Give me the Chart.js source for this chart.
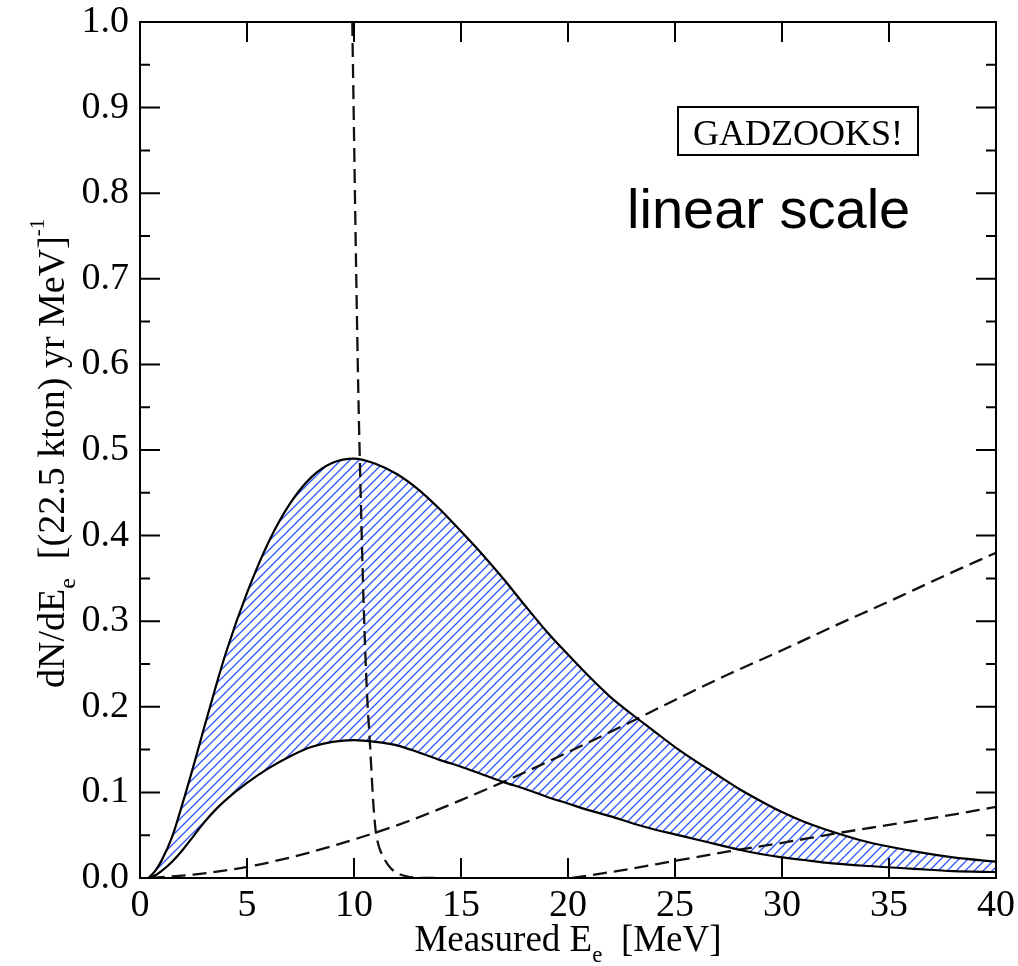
<!DOCTYPE html>
<html>
<head>
<meta charset="utf-8">
<script src="https://cdn.jsdelivr.net/npm/chart.js@4.4.0/dist/chart.umd.min.js"></script>
<style>
  html, body { margin: 0; padding: 0; background: #fff; }
  #wrap { position: relative; width: 1018px; height: 966px; }
</style>
</head>
<body>
<div id="wrap"><canvas id="c" width="1018" height="966"></canvas></div>
<script>
// Positron energy grid for the signal band (MeV)
const energy = [0.4, 0.7, 1, 1.5, 2, 2.5, 3, 3.5, 4, 5, 6, 7, 8, 9, 10, 11, 12, 13, 14, 15, 16,
                17, 18, 19, 20, 21, 22, 23, 24, 25, 26, 27, 28, 29, 30, 31, 32, 34, 36, 38, 40];
// Upper edge of the relic-neutrino signal band
const bandUpper = [0, 0.008, 0.020, 0.048, 0.088, 0.131, 0.176, 0.220, 0.262, 0.333, 0.392, 0.437,
                   0.468, 0.485, 0.490, 0.484, 0.472, 0.454, 0.431, 0.405, 0.378, 0.349, 0.318,
                   0.288, 0.261, 0.235, 0.211, 0.191, 0.172, 0.153, 0.136, 0.120, 0.104, 0.090,
                   0.077, 0.066, 0.057, 0.042, 0.032, 0.024, 0.019];
// Lower edge of the signal band
const bandLower = [0, 0.003, 0.008, 0.019, 0.033, 0.049, 0.065, 0.079, 0.091, 0.111, 0.128, 0.142,
                   0.153, 0.159, 0.161, 0.159, 0.155, 0.147, 0.138, 0.130, 0.121, 0.112, 0.104,
                   0.095, 0.087, 0.079, 0.072, 0.064, 0.057, 0.051, 0.045, 0.039, 0.033, 0.028,
                   0.024, 0.021, 0.018, 0.014, 0.011, 0.008, 0.007];

// Spallation / reactor background falling off near 10-12 MeV
const spallE = [9.92, 10.0, 10.1, 10.2, 10.3, 10.45, 10.6, 10.75, 10.9, 11.0, 11.1, 11.2, 11.4,
                11.7, 12.0, 12.5, 13.0, 14.0];
const spallRate = [1.0, 0.87, 0.71, 0.57, 0.46, 0.32, 0.22, 0.155, 0.088, 0.058, 0.043, 0.034,
                   0.023, 0.012, 0.006, 0.0015, 0.0003, 0];

// Invisible-muon decay background
const muonE = [0.5, 2.5, 5, 7.5, 10, 12.5, 15, 17.5, 20, 22.5, 25, 27.5, 30, 32.5, 35, 37.5, 40];
const muonRate = [0, 0.004, 0.013, 0.027, 0.045, 0.066, 0.091, 0.118, 0.147, 0.177, 0.208, 0.238,
                  0.266, 0.295, 0.323, 0.352, 0.380];

// Atmospheric electron-neutrino background
const atmE = [20.2, 22.5, 25, 27.5, 30, 32.5, 35, 37.5, 40];
const atmRate = [0, 0.009, 0.020, 0.031, 0.041, 0.052, 0.062, 0.072, 0.083];

// Axis ticks
const xTickValues = [0, 5, 10, 15, 20, 25, 30, 35, 40];
const yMajorTicks = [0, 0.1, 0.2, 0.3, 0.4, 0.5, 0.6, 0.7, 0.8, 0.9, 1.0];
const yMinorTicks = [0.05, 0.15, 0.25, 0.35, 0.45, 0.55, 0.65, 0.75, 0.85, 0.95];

const SERIF = "'Liberation Serif', 'Times New Roman', serif";
const SANS = "'Liberation Sans', Arial, sans-serif";

const pts = (xs, ys) => xs.map((x, i) => ({ x, y: ys[i] }));

const canvas = document.getElementById('c');
const ctx0 = canvas.getContext('2d');

// Diagonal hatch used inside the signal band
function makeHatch() {
  const s = 9;
  const tile = document.createElement('canvas');
  tile.width = s; tile.height = s;
  const g = tile.getContext('2d');
  g.strokeStyle = '#2f55ff';
  g.lineWidth = 1.3;
  g.beginPath();
  g.moveTo(-2, s + 2); g.lineTo(s + 2, -2);
  g.moveTo(-2, 2); g.lineTo(2, -2);
  g.moveTo(s - 2, s + 2); g.lineTo(s + 2, s - 2);
  g.stroke();
  return ctx0.createPattern(tile, 'repeat');
}

// Width of a run of text pieces with sub/superscripts
function richWidth(ctx, parts, base) {
  let w = 0;
  parts.forEach(p => {
    ctx.font = `${Math.round(base * (p.scale || 1))}px ${SERIF}`;
    w += ctx.measureText(p.t).width;
  });
  return w;
}
function paintRich(ctx, parts, base, x0) {
  let x = x0;
  parts.forEach(p => {
    ctx.font = `${Math.round(base * (p.scale || 1))}px ${SERIF}`;
    ctx.fillText(p.t, x, p.dy || 0);
    x += ctx.measureText(p.t).width;
  });
}

const framePlugin = {
  id: 'frame',
  afterDraw(chart) {
    const { ctx, chartArea: a, scales: { x, y } } = chart;
    ctx.save();
    ctx.strokeStyle = '#000';
    ctx.lineWidth = 2;
    ctx.strokeRect(a.left, a.top, a.right - a.left, a.bottom - a.top);

    ctx.beginPath();
    xTickValues.forEach(v => {
      const px = x.getPixelForValue(v);
      ctx.moveTo(px, a.bottom); ctx.lineTo(px, a.bottom - 20);
      ctx.moveTo(px, a.top); ctx.lineTo(px, a.top + 20);
    });
    yMajorTicks.forEach(v => {
      const py = y.getPixelForValue(v);
      ctx.moveTo(a.left, py); ctx.lineTo(a.left + 20, py);
      ctx.moveTo(a.right, py); ctx.lineTo(a.right - 20, py);
    });
    yMinorTicks.forEach(v => {
      const py = y.getPixelForValue(v);
      ctx.moveTo(a.left, py); ctx.lineTo(a.left + 10, py);
      ctx.moveTo(a.right, py); ctx.lineTo(a.right - 10, py);
    });
    ctx.stroke();

    ctx.fillStyle = '#000';
    ctx.textBaseline = 'alphabetic';
    ctx.textAlign = 'left';

    // x-axis title
    const xt = [
      { t: 'Measured E' },
      { t: 'e', scale: 0.62, dy: 11 },
      { t: '  [MeV]' }
    ];
    const xw = richWidth(ctx, xt, 37);
    ctx.save();
    ctx.translate((a.left + a.right) / 2 - xw / 2, 951);
    paintRich(ctx, xt, 37, 0);
    ctx.restore();

    // y-axis title, rotated
    const yt = [
      { t: 'dN/dE' },
      { t: 'e', scale: 0.62, dy: 11 },
      { t: '  [(22.5 kton) yr MeV]' },
      { t: '-1', scale: 0.55, dy: -20 }
    ];
    ctx.save();
    ctx.translate(64, 688);
    ctx.rotate(-Math.PI / 2);
    paintRich(ctx, yt, 38, 0);
    ctx.restore();

    // experiment label box
    ctx.font = `36px ${SERIF}`;
    ctx.textAlign = 'center';
    ctx.fillText('GADZOOKS!', 798, 145);
    ctx.lineWidth = 2;
    ctx.strokeRect(678, 107, 240, 48);

    ctx.font = `56px ${SANS}`;
    ctx.textAlign = 'left';
    ctx.fillText('linear scale', 627, 228);
    ctx.restore();
  }
};

const solid = (data, extra) => Object.assign({
  data, showLine: true, borderColor: '#000', borderWidth: 2.2, pointRadius: 0,
  cubicInterpolationMode: 'monotone', fill: false
}, extra);
const dashed = (data, label) => ({
  label, data, showLine: true, borderColor: '#111', borderWidth: 2.3, pointRadius: 0,
  borderDash: [14, 7], cubicInterpolationMode: 'monotone', fill: false
});

new Chart(canvas, {
  type: 'scatter',
  data: {
    datasets: [
      solid(pts(energy, bandUpper), { label: 'upper', fill: '+1', backgroundColor: makeHatch() }),
      solid(pts(energy, bandLower), { label: 'lower' }),
      dashed(pts(spallE, spallRate), 'spallation'),
      dashed(pts(muonE, muonRate), 'invisible muons'),
      dashed(pts(atmE, atmRate), 'atmospheric')
    ]
  },
  options: {
    responsive: false,
    animation: false,
    devicePixelRatio: 1,
    layout: { padding: { top: 22, right: 22, left: 0, bottom: 0 } },
    plugins: {
      legend: { display: false },
      tooltip: { enabled: false },
      filler: { drawTime: 'beforeDatasetsDraw' }
    },
    scales: {
      x: {
        type: 'linear', min: 0, max: 40,
        border: { display: false },
        grid: { display: false, drawTicks: false },
        ticks: {
          stepSize: 5, autoSkip: false, maxRotation: 0, padding: 5, color: '#000',
          font: { family: SERIF, size: 38 }
        },
        afterFit(scale) { scale.height = 88; scale.paddingLeft = 0; scale.paddingRight = 0; }
      },
      y: {
        type: 'linear', min: 0, max: 1,
        border: { display: false },
        grid: { display: false, drawTicks: false },
        ticks: {
          stepSize: 0.1, autoSkip: false, padding: 11, color: '#000',
          font: { family: SERIF, size: 38 },
          callback: v => Number(v).toFixed(1)
        },
        afterFit(scale) { scale.width = 140; scale.paddingTop = 0; scale.paddingBottom = 0; }
      }
    }
  },
  plugins: [framePlugin]
});
</script>
</body>
</html>
